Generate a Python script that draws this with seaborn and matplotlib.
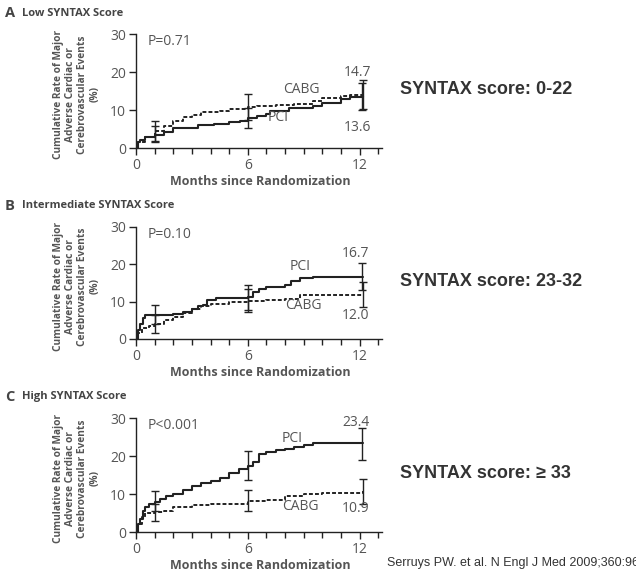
import numpy as np
import pandas as pd
import seaborn as sns
import matplotlib.pyplot as plt

# Kaplan-Meier style step curves (months, %)
a_pci_x = [0, 0.1, 0.2, 0.5, 1.0, 1.5, 2.0, 3.3, 4.2, 5.0, 5.6, 6.0, 6.5, 7.0, 7.2, 8.2, 9.5, 10.0, 11.0, 11.5, 12.2]
a_pci_y = [0, 1.5, 2.2, 2.8, 3.3, 4.2, 5.3, 6.0, 6.3, 6.8, 7.2, 7.8, 8.3, 9.0, 9.8, 10.5, 11.0, 11.8, 12.8, 13.3, 13.6]
a_cabg_x = [0, 0.1, 0.5, 1.0, 1.5, 2.0, 2.5, 3.0, 3.5, 4.5, 5.0, 6.0, 6.5, 7.5, 8.5, 9.5, 10.0, 11.0, 11.5, 12.2]
a_cabg_y = [0, 1.5, 3.0, 4.5, 5.8, 7.0, 8.2, 8.8, 9.5, 9.8, 10.2, 10.8, 11.0, 11.3, 11.7, 12.5, 13.2, 13.6, 14.0, 14.0]

b_pci_x = [0, 0.1, 0.2, 0.4, 0.5, 1.0, 2.0, 2.5, 3.0, 3.3, 3.6, 3.8, 4.3, 6.0, 6.3, 6.6, 7.0, 8.0, 8.3, 8.8, 9.5, 12.2]
b_pci_y = [0, 2.5, 4.0, 5.5, 6.3, 6.5, 6.8, 7.3, 8.0, 8.8, 9.2, 10.5, 11.0, 11.2, 12.5, 13.5, 14.0, 14.5, 15.5, 16.3, 16.7, 16.7]
b_cabg_x = [0, 0.1, 0.3, 0.7, 1.0, 1.5, 2.0, 2.5, 3.0, 3.5, 4.0, 5.0, 6.0, 7.0, 8.0, 8.8, 12.2]
b_cabg_y = [0, 1.5, 3.0, 3.5, 4.0, 5.0, 5.8, 7.0, 8.0, 8.8, 9.5, 9.8, 10.2, 10.5, 10.8, 11.8, 11.9]

c_pci_x = [0, 0.1, 0.2, 0.35, 0.5, 0.7, 1.0, 1.3, 1.6, 2.0, 2.5, 3.0, 3.5, 4.0, 4.5, 5.0, 5.5, 6.0, 6.3, 6.6, 7.0, 7.5, 8.0, 8.5, 9.0, 9.5, 12.2]
c_pci_y = [0, 2.0, 3.5, 5.5, 6.5, 7.5, 8.0, 8.8, 9.5, 10.0, 11.0, 12.0, 12.8, 13.5, 14.3, 15.5, 16.5, 17.5, 18.5, 20.5, 21.0, 21.5, 21.8, 22.3, 22.8, 23.4, 23.4]
c_cabg_x = [0, 0.1, 0.3, 0.5, 1.0, 1.5, 2.0, 3.0, 4.0, 5.0, 6.0, 7.0, 8.0, 9.0, 10.0, 11.0, 12.2]
c_cabg_y = [0, 2.0, 4.0, 5.0, 5.2, 5.5, 6.5, 7.0, 7.3, 7.5, 8.2, 8.4, 9.5, 10.0, 10.2, 10.3, 10.9]

# error bars: month, estimate, lower, upper
a_pci_err = ([1.0, 6.0, 12.1], [3.3, 7.8, 13.6], [1.5, 5.2, 10.0], [5.8, 10.5, 17.0])
a_cabg_err = ([1.0, 6.0, 12.2], [4.5, 10.8, 14.0], [1.8, 7.5, 10.3], [7.0, 14.2, 18.0])
b_pci_err = ([1.0, 6.0, 12.1], [6.5, 11.2, 16.7], [4.0, 7.8, 13.0], [9.2, 14.5, 20.3])
b_cabg_err = ([1.0, 6.0, 12.2], [4.0, 10.2, 11.9], [1.7, 7.3, 8.5], [6.5, 13.5, 15.2])
c_pci_err = ([1.0, 6.0, 12.1], [8.0, 17.5, 23.4], [5.5, 13.8, 19.0], [10.8, 21.3, 27.5])
c_cabg_err = ([1.0, 6.0, 12.2], [5.2, 8.2, 10.5], [3.0, 5.5, 7.5], [7.5, 11.0, 14.0])

panel_letters = ["A", "B", "C"]
panel_titles = ["Low SYNTAX Score", "Intermediate SYNTAX Score", "High SYNTAX Score"]
p_values = ["P=0.71", "P=0.10", "P<0.001"]
score_labels = ["SYNTAX score: 0-22", "SYNTAX score: 23-32", "SYNTAX score: \u2265 33"]
pci_final = ["13.6", "16.7", "23.4"]
cabg_final = ["14.7", "12.0", "10.9"]

sns.set_style("ticks")
plt.rcParams['font.family'] = ['Open Sans', 'DejaVu Sans']

fig = plt.figure(figsize=(6.36, 5.75), dpi=100)
W, H = 636, 575

# axes boxes in pixels: top, bottom
boxes = [(34, 148), (227, 339), (418, 532)]
ax_left, ax_right = 136, 382

curves = [
    (a_pci_x, a_pci_y, a_cabg_x, a_cabg_y, a_pci_err, a_cabg_err),
    (b_pci_x, b_pci_y, b_cabg_x, b_cabg_y, b_pci_err, b_cabg_err),
    (c_pci_x, c_pci_y, c_cabg_x, c_cabg_y, c_pci_err, c_cabg_err),
]
# label positions (x, y in data units)
pci_lab = [(7.6, 7.9), (8.8, 19.3), (8.4, 24.7)]
cabg_lab = [(8.9, 15.3), (9.0, 8.9), (8.8, 6.8)]
pci_num = [(11.9, 5.4), (11.8, 22.8), (11.8, 28.9)]
cabg_num = [(11.9, 19.8), (11.8, 6.2), (11.8, 6.3)]

line_col = "#222222"
text_col = "#555555"

for i, (top, bot) in enumerate(boxes):
    ax = fig.add_axes([ax_left / W, 1 - bot / H, (ax_right - ax_left) / W, (bot - top) / H])
    px, py, cx, cy, perr, cerr = curves[i]
    pci = pd.DataFrame({"month": px, "rate": py})
    cabg = pd.DataFrame({"month": cx, "rate": cy})
    sns.lineplot(data=pci, x="month", y="rate", ax=ax, color=line_col, lw=1.5,
                 drawstyle="steps-post", estimator=None)
    sns.lineplot(data=cabg, x="month", y="rate", ax=ax, color=line_col, lw=1.4,
                 drawstyle="steps-post", estimator=None, linestyle=(0, (2.0, 1.1)))
    for ex, ey, lo, hi in (perr, cerr):
        ey = np.array(ey)
        yerr = [ey - np.array(lo), np.array(hi) - ey]
        ax.errorbar(ex, ey, yerr=yerr, fmt="none", ecolor=line_col, elinewidth=1.0,
                    capsize=3, capthick=1.0)

    ax.set_xlim(0, 13.2)
    ax.set_ylim(0, 30)
    ax.set_xticks([0, 6, 12])
    ax.set_xticks(range(1, 14), minor=True)
    ax.set_yticks([0, 10, 20, 30])
    ax.tick_params(axis="both", which="major", length=5, width=1, colors=line_col,
                   labelcolor=text_col, labelsize=10, pad=2)
    ax.tick_params(axis="x", which="minor", length=4, width=1, colors=line_col)
    sns.despine(ax=ax)
    for s in ("left", "bottom"):
        ax.spines[s].set_color(line_col)
        ax.spines[s].set_linewidth(1.0)

    ax.set_xlabel("Months since Randomization", fontsize=9, fontweight="bold", color=text_col)
    ax.xaxis.set_label_coords(0.506, -0.24)
    ax.set_ylabel("Cumulative Rate of Major\nAdverse Cardiac or\nCerebrovascular Events\n(%)",
                  fontsize=7.3, fontweight="bold", color=text_col, linespacing=1.12)
    ax.yaxis.set_label_coords(-0.145, 0.47)

    ax.text(0.6, 28, p_values[i], fontsize=10, color=text_col, ha="left", va="center")
    ax.text(*pci_lab[i], "PCI", fontsize=10, color=text_col, ha="center", va="center")
    ax.text(*cabg_lab[i], "CABG", fontsize=10, color=text_col, ha="center", va="center")
    ax.text(*pci_num[i], pci_final[i], fontsize=10, color=text_col, ha="center", va="center")
    ax.text(*cabg_num[i], cabg_final[i], fontsize=10, color=text_col, ha="center", va="center")

    title_y = 1 - (top - 21) / H
    fig.text(5 / W, title_y, panel_letters[i], fontsize=10.5, fontweight="bold", color="#444444",
             va="center", ha="left")
    fig.text(22 / W, title_y, panel_titles[i], fontsize=8, fontweight="bold", color="#444444",
             va="center", ha="left")

    mid = (top + bot) / 2 - 1
    fig.text(400 / W, 1 - mid / H, score_labels[i], fontsize=13, fontweight="bold",
             color="#333333", family=["Liberation Sans", "DejaVu Sans"], va="center", ha="left")

fig.text(387 / W, 1 - 563 / H, "Serruys PW. et al. N Engl J Med 2009;360:961-72",
         fontsize=9, color="#333333", family=["Liberation Sans", "DejaVu Sans"],
         va="center", ha="left")

fig.savefig("out.png", dpi=100)
